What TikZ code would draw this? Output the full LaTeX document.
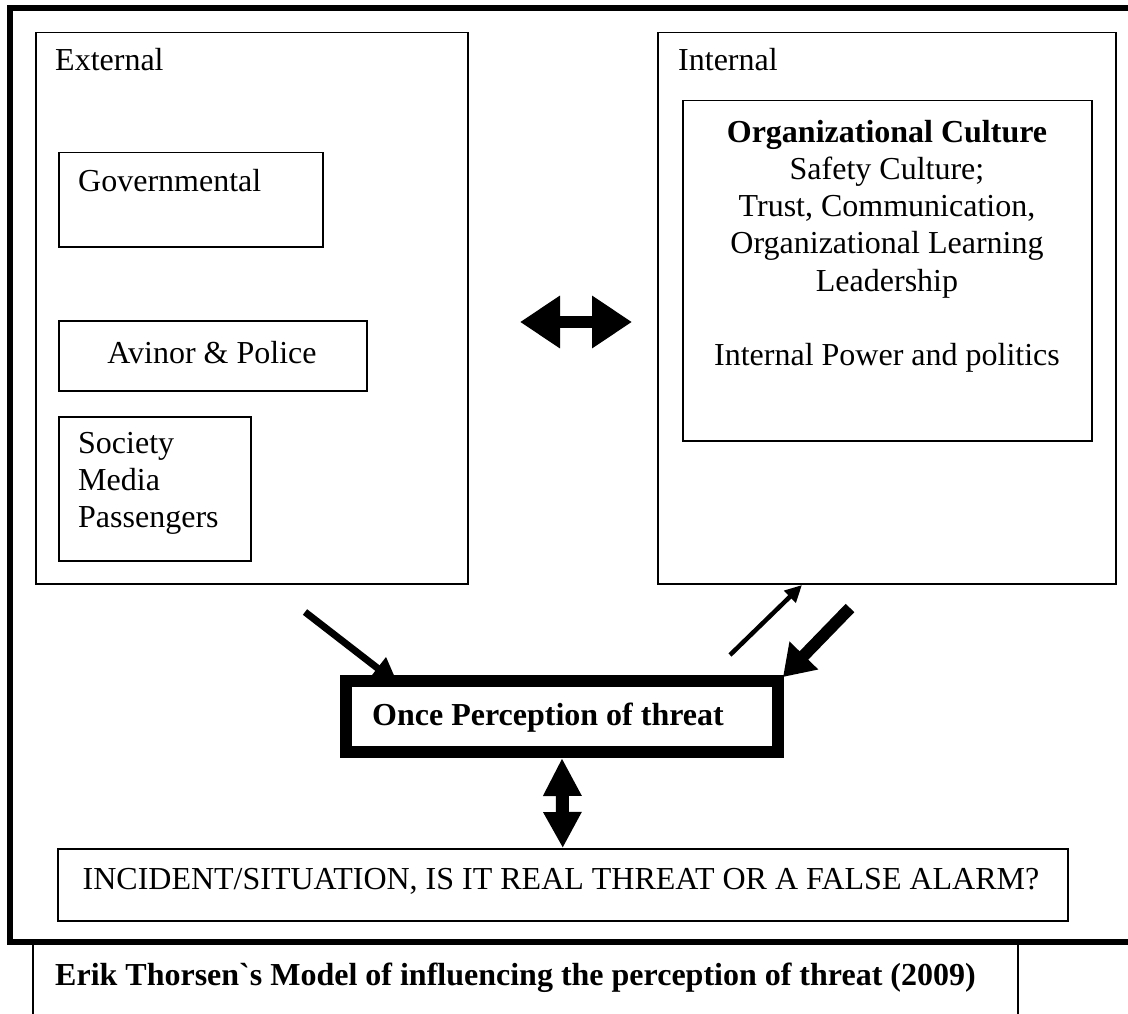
\documentclass[tikz,border=0pt]{standalone}
\usepackage{fontspec}
\setmainfont{Liberation Serif}
\usetikzlibrary{arrows.meta}

\tikzset{
  box/.style={draw, line width=1.5pt, inner sep=0pt, anchor=north west},
  txt/.style={font=\fontsize{32}{37}\selectfont, inner sep=0pt, anchor=base west},
  bold/.style={txt, font=\fontsize{32}{37}\selectfont\bfseries},
}

\begin{document}
\begin{tikzpicture}[x=1pt, y=-1pt]
  \useasboundingbox (0,0) rectangle (1128,1014);

  % outer frame, open at the right
  \draw[line width=6pt] (1128,8) -- (10,8) -- (10,942) -- (1128,942);
  \draw[line width=1.5pt] (33,945) -- (33,1014);
  \draw[line width=1.5pt] (1018,945) -- (1018,1014);

  % external side
  \node[box, minimum width=432pt, minimum height=551pt] (ext) at (35,32) {};
  \node[txt] (extlab) at (55,71) {External};
  \node[box, minimum width=264pt, minimum height=94pt] (gov) at (58,152) {};
  \node[txt] (govlab) at (78,192) {Governmental};
  \node[box, minimum width=308pt, minimum height=70pt] (avi) at (58,320) {};
  \node[txt, anchor=base] (avilab) at (212,363) {Avinor \& Police};
  \node[box, minimum width=192pt, minimum height=144pt] (soc) at (58,416) {};
  \node[txt, anchor=north west, align=left, text depth=0pt] (soclab) at (78,432)
    {Society\\Media\\Passengers};

  % internal side
  \node[box, minimum width=458pt, minimum height=551pt] (int) at (657,32) {};
  \node[txt] (intlab) at (678,71) {Internal};
  \node[box, minimum width=409pt, minimum height=340pt] (org) at (682,100) {};
  \node[bold, anchor=base] (orglab) at (887,143) {Organizational Culture};
  \node[txt, anchor=base] (orgl1) at (887,180) {Safety Culture;};
  \node[txt, anchor=base] (orgl2) at (887,217) {Trust, Communication,};
  \node[txt, anchor=base] (orgl3) at (887,254) {Organizational Learning};
  \node[txt, anchor=base] (orgl4) at (887,291) {Leadership};
  \node[txt, anchor=base] (orgl5) at (887,365) {Internal Power and politics};

  % perception and incident
  \node[draw, line width=12pt, minimum width=432pt, minimum height=71pt,
        inner sep=0pt] (perc) at (562,716.5) {};
  \node[bold] (perclab) at (372,725) {Once Perception of threat};
  \node[box, minimum width=1010pt, minimum height=72pt] (inc) at (57,848) {};
  \node[txt, anchor=base] (inclab) at (561,889)
    {INCIDENT/SITUATION, IS IT REAL THREAT OR A FALSE ALARM?};
  \node[bold] (caption) at (55,985)
    {Erik Thorsen\textasciigrave s Model of influencing the perception of threat (2009)};

  % arrows
  \coordinate (hl) at (520,322);
  \coordinate (hr) at (632,322);
  \draw[line width=12pt, {Triangle[length=40pt,width=50pt]}-{Triangle[length=40pt,width=50pt]}]
    (hl) -- (hr);
  \coordinate (ea) at (305,612);
  \coordinate (eb) at (398,684);
  \draw[line width=7pt, -{Triangle[length=26pt,width=26pt]}] (ea) -- (eb);
  \coordinate (ia) at (730,655);
  \coordinate (ib) at (802,585);
  \draw[line width=4.5pt, -{Triangle[length=17pt,width=16pt]}] (ia) -- (ib);
  \coordinate (ja) at (850,608);
  \coordinate (jb) at (783,677);
  \draw[line width=12pt, -{Triangle[length=30pt,width=38pt]}] (ja) -- (jb);
  \draw[line width=13pt, {Triangle[length=38pt,width=36pt]}-{Triangle[length=36pt,width=36pt]}]
    (perc.south) -- (inc.north);
\end{tikzpicture}
\end{document}
